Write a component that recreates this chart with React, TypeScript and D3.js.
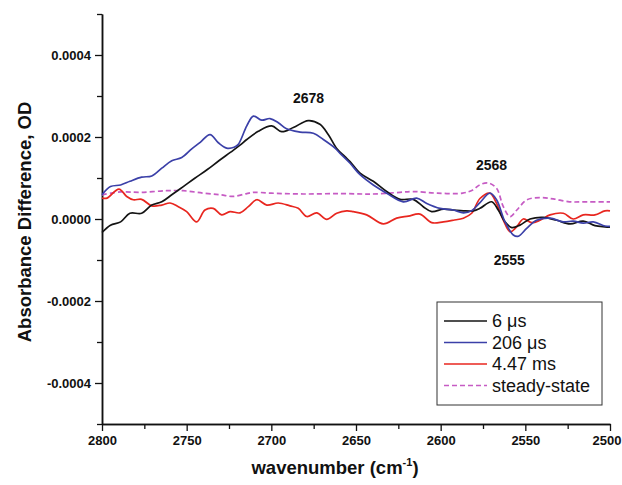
import React, { useRef, useEffect } from 'react';
import * as d3 from 'd3';

// wavenumber (cm-1) / absorbance difference (OD) pairs
const black6us: [number, number][] = [
  [2800, -0.000033], [2795, -0.000015], [2789, -0.000007], [2783.5, 0.000014], [2776.6, 0.000014],
  [2770.6, 0.000034], [2764.7, 0.000042], [2758.8, 0.000059], [2752, 0.000079], [2745, 0.0001],
  [2738, 0.00012], [2731, 0.000142], [2724, 0.000163], [2718.5, 0.00018], [2714.5, 0.000194],
  [2707.7, 0.000214], [2699.8, 0.000227], [2693.9, 0.000213], [2687, 0.000223], [2678.2, 0.00024],
  [2671.3, 0.000231], [2666.4, 0.000206], [2661.4, 0.000172], [2656.5, 0.000152], [2653.5, 0.00014],
  [2647.6, 0.000112], [2639.8, 0.000092], [2631.9, 0.000067], [2624, 0.000048], [2616.2, 0.000048],
  [2610.3, 0.00003], [2605.3, 0.000018], [2598.4, 0.000024], [2592.5, 0.000022], [2586.6, 0.00002],
  [2580.7, 0.00002], [2576.8, 0.000026], [2569.9, 0.000042], [2566, 0.000022], [2562, -0.000007],
  [2558, -0.000021], [2553.2, -0.000015], [2547.2, 0], [2539.4, 0.000004], [2531.5, -0.000003],
  [2523.6, -0.000012], [2515.8, -0.000005], [2508.9, -0.000016], [2503, -0.000019], [2500, -0.00002],
];

const blue206us: [number, number][] = [
  [2800, 0.000059], [2795, 0.000079], [2789, 0.000083], [2783.5, 0.000092], [2776.6, 0.000102],
  [2770.6, 0.000105], [2764.7, 0.000124], [2758.8, 0.000142], [2752.9, 0.00015], [2747, 0.000171],
  [2742, 0.000187], [2736.2, 0.000206], [2731.3, 0.000186], [2726.4, 0.000173], [2722, 0.000175],
  [2719.5, 0.000182], [2714.5, 0.000227], [2710.6, 0.000251], [2705.7, 0.000241], [2700.8, 0.000245],
  [2695.9, 0.000235], [2691, 0.00022], [2683, 0.000212], [2675.2, 0.000209], [2669.3, 0.000194],
  [2662.4, 0.000173], [2659.4, 0.00016], [2653.5, 0.000136], [2647.6, 0.000108], [2639.8, 0.000083],
  [2631.9, 0.000063], [2622.1, 0.000042], [2614.2, 0.000051], [2608.2, 0.000038], [2600.4, 0.000026],
  [2592.5, 0.000022], [2586.6, 0.000015], [2581.7, 0.00002], [2576.8, 0.00004], [2570.9, 0.000063],
  [2567, 0.000047], [2562, -0.000007], [2557.1, -0.000039], [2554.1, -0.000042], [2549.2, -0.000023],
  [2543.3, -0.000003], [2535.4, 0.000002], [2527.6, -0.000007], [2521.7, -0.000005], [2515.8, -0.00001],
  [2509.9, -0.000007], [2503, -0.000017], [2500, -0.000018],
];

const red447ms: [number, number][] = [
  [2800, 0.000051], [2797, 0.000051], [2790, 0.000073], [2785.4, 0.000055], [2781.5, 0.000047],
  [2776.6, 0.000048], [2770.6, 0.000032], [2764.7, 0.000034], [2759.8, 0.000039], [2754.9, 0.00003],
  [2750, 0.000018], [2744.1, -0.000007], [2739.2, 0.000022], [2734.3, 0.000026], [2729.3, 0.00001],
  [2724.4, 0.000018], [2718.5, 0.000015], [2713.6, 0.00003], [2708.6, 0.000047], [2702.7, 0.000034],
  [2695.9, 0.000039], [2689, 0.000032], [2684.1, 0.000026], [2679.1, 0.000006], [2673.2, 0.000015],
  [2667.3, -0.000001], [2661.4, 0.000014], [2655.5, 0.00002], [2651.6, 0.000018], [2643.7, 0.00001],
  [2633.9, -0.000012], [2626, 0.000002], [2619.1, 0.000007], [2612.2, 0.000012], [2605.3, -0.000009],
  [2598.4, -0.000007], [2592.5, -0.000003], [2586.6, 0.000002], [2581.7, 0.000014], [2576.8, 0.00005],
  [2570.9, 0.000063], [2567, 0.000038], [2563, -0.000003], [2559, -0.000031], [2555.1, -0.000019],
  [2551.2, 0], [2546.2, -0.000009], [2541.3, -0.000003], [2535.4, 0.00001], [2527.6, 0.000014],
  [2521.7, 0], [2515.8, 0.00001], [2508.9, 0.00001], [2503, 0.00002], [2500, 0.00002],
];

const steadyState: [number, number][] = [
  [2800, 0.000059], [2789, 0.000066], [2777, 0.000065], [2762, 0.000069], [2752, 0.000069],
  [2740, 0.000063], [2730, 0.000059], [2722.5, 0.000055], [2714.5, 0.000062], [2710.6, 0.000065],
  [2700, 0.000063], [2681, 0.000061], [2659, 0.000062], [2640, 0.000061], [2624, 0.000065],
  [2616, 0.000067], [2602, 0.000063], [2587, 0.000063], [2581, 0.000071], [2577, 0.000083],
  [2572, 0.000088], [2567, 0.000075], [2563, 0.00003], [2559, 0.000006], [2555, 0.000022],
  [2549, 0.000047], [2541, 0.000052], [2533.5, 0.000049], [2524, 0.000042], [2514, 0.000042],
  [2500, 0.000042],
];

const seriesNames = ['6 \u03bcs', '206 \u03bcs', '4.47 ms', 'steady-state'];
const seriesData = [black6us, blue206us, red447ms, steadyState];
const seriesColors = ['#141414', '#3b40a8', '#e8261f', '#c65bc4'];
const seriesDash = [null, null, null, '5,3'];

const xTicks = [2800, 2750, 2700, 2650, 2600, 2550, 2500];
const yTicks = [0.0004, 0.0002, 0, -0.0002, -0.0004];

const peakLabels: { text: string; wn: number; od: number }[] = [
  { text: '2678', wn: 2678, od: 0.000283 },
  { text: '2568', wn: 2570, od: 0.00012 },
  { text: '2555', wn: 2559.5, od: -0.000112 },
];

const width = 622;
const height = 485;

const App = () => {
  const svgRef = useRef<SVGSVGElement>(null);

  useEffect(() => {
    const svg = d3.select(svgRef.current);
    svg.selectAll('*').remove();

    const marginLeft = 102;
    const marginRight = 12;
    const marginTop = 14;
    const marginBottom = 61;

    const x = d3.scaleLinear().domain([2800, 2500]).range([marginLeft, width - marginRight]);
    const y = d3.scaleLinear().domain([-0.0005, 0.0005]).range([height - marginBottom, marginTop]);

    const font = "'Liberation Sans', Arial, sans-serif";
    const fmtY = (d: number) => d3.format('.4f')(d).replace('\u2212', '-');

    // x axis: minor ticks then major ticks with labels
    const xAxisG = svg.append('g').attr('transform', `translate(0,${height - marginBottom})`);
    xAxisG.call(
      d3.axisBottom(x).tickValues(d3.range(2775, 2500, -50)).tickSize(5).tickFormat(() => '').tickSizeOuter(0)
    );
    xAxisG.append('g').attr('class', 'x-major').call(
      d3.axisBottom(x).tickValues(xTicks).tickSize(7).tickPadding(5).tickFormat(d3.format('d')).tickSizeOuter(0)
    );
    // last label sits against the right edge, as in the original
    xAxisG.selectAll('.x-major .tick text')
      .filter((d: any) => d === 2500)
      .attr('text-anchor', 'end')
      .attr('dx', 11);

    // y axis
    const yAxisG = svg.append('g').attr('transform', `translate(${marginLeft},0)`);
    yAxisG.call(
      d3.axisLeft(y).tickValues([0.0005, 0.0003, 0.0001, -0.0001, -0.0003, -0.0005]).tickSize(5).tickFormat(() => '').tickSizeOuter(0)
    );
    yAxisG.append('g').call(
      d3.axisLeft(y).tickValues(yTicks).tickSize(7).tickPadding(4).tickFormat(fmtY as any).tickSizeOuter(0)
    );

    svg.selectAll('.domain').attr('stroke', '#111').attr('stroke-width', 1.5);
    svg.selectAll('.tick line').attr('stroke', '#111').attr('stroke-width', 1.3);
    svg.selectAll('.tick text')
      .attr('font-family', font)
      .attr('font-size', 13)
      .attr('font-weight', 'bold')
      .attr('fill', '#111');

    // lines
    const line = d3.line<[number, number]>()
      .x(d => x(d[0]))
      .y(d => y(d[1]))
      .curve(d3.curveCatmullRom.alpha(0.5));

    const order = [3, 2, 0, 1];
    order.forEach(i => {
      svg.append('path')
        .datum(seriesData[i])
        .attr('fill', 'none')
        .attr('stroke', seriesColors[i])
        .attr('stroke-width', 1.7)
        .attr('stroke-dasharray', seriesDash[i])
        .attr('d', line);
    });

    // peak annotations
    svg.selectAll('.peak')
      .data(peakLabels)
      .join('text')
      .attr('class', 'peak')
      .attr('x', d => x(d.wn))
      .attr('y', d => y(d.od))
      .attr('text-anchor', 'middle')
      .attr('font-family', font)
      .attr('font-weight', 'bold')
      .attr('font-size', 14)
      .attr('fill', '#111')
      .text(d => d.text);

    // axis titles
    const xTitle = svg.append('text')
      .attr('x', 335)
      .attr('y', 474)
      .attr('text-anchor', 'middle')
      .attr('font-family', font)
      .attr('font-weight', 'bold')
      .attr('font-size', 18.5)
      .attr('fill', '#111');
    xTitle.append('tspan').text('wavenumber (cm');
    xTitle.append('tspan').attr('dy', -8).attr('font-size', 11).text('-1');
    xTitle.append('tspan').attr('dy', 8).text(')');

    svg.append('text')
      .attr('transform', `translate(31,222) rotate(-90)`)
      .attr('text-anchor', 'middle')
      .attr('font-family', font)
      .attr('font-weight', 'bold')
      .attr('font-size', 18.5)
      .attr('fill', '#111')
      .text('Absorbance Difference, OD');

    // legend
    const legend = svg.append('g').attr('transform', 'translate(437,302)');
    legend.append('rect')
      .attr('width', 165)
      .attr('height', 103)
      .attr('fill', '#fff')
      .attr('stroke', '#333')
      .attr('stroke-width', 1);
    seriesNames.forEach((name, i) => {
      const row = legend.append('g').attr('transform', `translate(0,${19 + i * 21.5})`);
      row.append('line')
        .attr('x1', 7).attr('x2', 50)
        .attr('stroke', seriesColors[i])
        .attr('stroke-width', 1.7)
        .attr('stroke-dasharray', seriesDash[i]);
      row.append('text')
        .attr('x', 55)
        .attr('dy', '0.35em')
        .attr('font-family', font)
        .attr('font-size', 18)
        .attr('fill', '#111')
        .text(name);
    });
  }, []);

  return (
    <svg
      ref={svgRef}
      width={width}
      height={height}
      style={{ position: 'absolute', left: 0, top: 0, background: '#fff' }}
    />
  );
};

export default App;
